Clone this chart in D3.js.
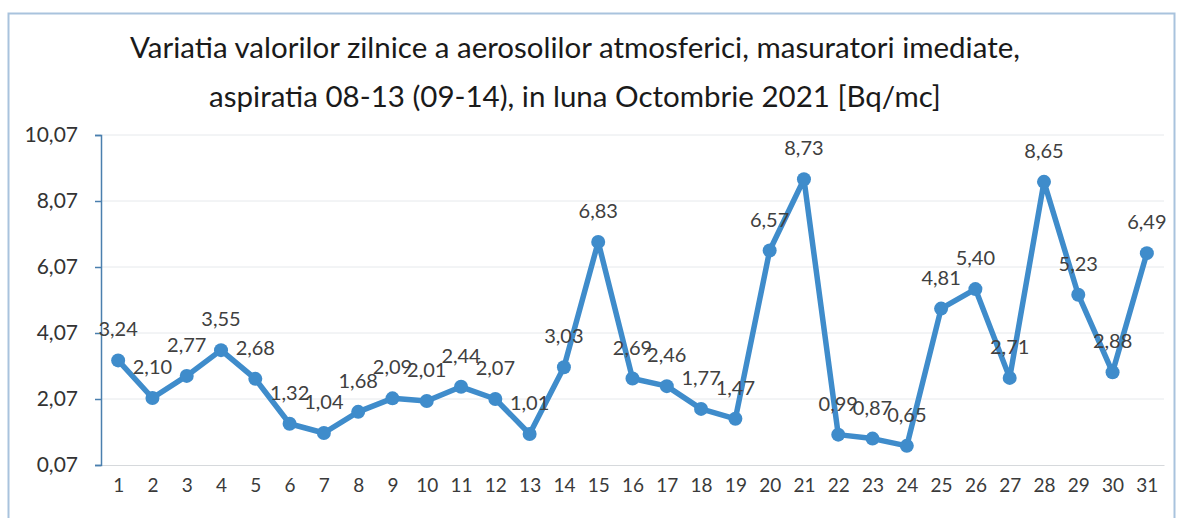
<!DOCTYPE html>
<html>
<head>
<meta charset="utf-8">
<script src="https://cdn.jsdelivr.net/npm/d3@7"></script>
<style>
  body { margin: 0; background: #fff; }
  svg { display: block; font-family: Lato, "Open Sans", sans-serif; }
</style>
</head>
<body>
<script>
// ===================================================================

const WIDTH = 1182
const HEIGHT = 518

const TITLE = [
  'Variatia valorilor zilnice a aerosolilor atmosferici, masuratori imediate,',
  'aspiratia 08-13 (09-14),  in luna Octombrie 2021 [Bq/mc]'
]

const days = d3.range(1, 32).map(String)
const values = [
  3.24, 2.10, 2.77, 3.55, 2.68, 1.32, 1.04, 1.68, 2.09, 2.01,
  2.44, 2.07, 1.01, 3.03, 6.83, 2.69, 2.46, 1.77, 1.47, 6.57,
  8.73, 0.99, 0.87, 0.65, 4.81, 5.40, 2.71, 8.65, 5.23, 2.88, 6.49
]
const yTicks = [0.07, 2.07, 4.07, 6.07, 8.07, 10.07]

const LINE_COLOR = '#3f8ccb'

// ===================================================================

const ro = d3.formatLocale({ decimal: ',', thousands: '.', grouping: [3], currency: ['', ' lei'] })
const fmt = ro.format('.2f')

const svg = d3.select('body').append('svg')
  .attr('width', WIDTH)
  .attr('height', HEIGHT)

// chart frame
svg.append('path')
  .attr('d', `M8.5,${HEIGHT} V13.5 H1174.5 V${HEIGHT}`)
  .attr('fill', 'none')
  .attr('stroke', '#a9c3dd')
  .attr('stroke-width', 2)

svg.selectAll('text.title')
  .data(TITLE)
  .join('text')
    .attr('class', 'title')
    .attr('x', 575)
    .attr('y', (d, i) => 58 + i * 49)
    .attr('text-anchor', 'middle')
    .attr('font-size', 29.5)
    .attr('fill', '#1a1a1a')
    .text(d => d)

const x = d3.scalePoint()
  .domain(days)
  .range([101, 1164])
  .padding(0.5)

const y = d3.scaleLinear()
  .domain([0.07, 10.07])
  .range([465, 135])

// gridlines
svg.append('g')
  .selectAll('line')
  .data(yTicks.slice(1))
  .join('line')
    .attr('x1', 101)
    .attr('x2', 1164)
    .attr('y1', d => y(d))
    .attr('y2', d => y(d))
    .attr('stroke', '#e6e9ec')
    .attr('stroke-width', 1)

// x axis
const xAxis = svg.append('g')
  .attr('transform', `translate(0,${y(0.07)})`)
  .call(d3.axisBottom(x).tickSize(0).tickPadding(14))
xAxis.select('.domain').attr('stroke', '#d6d9dc')
xAxis.selectAll('text')
  .attr('font-size', 19)
  .attr('font-family', 'Lato, "Open Sans", sans-serif')
  .attr('fill', '#3a3a3a')

// y axis
const yAxis = svg.append('g')
  .attr('transform', 'translate(101,0)')
  .call(d3.axisLeft(y).tickValues(yTicks).tickFormat(fmt).tickSize(6).tickPadding(17))
yAxis.selectAll('.domain, line')
  .attr('stroke', '#4a7fae')
  .attr('stroke-width', 1.5)
yAxis.selectAll('text')
  .attr('font-size', 21)
  .attr('font-family', 'Lato, "Open Sans", sans-serif')
  .attr('fill', '#333')

// series
const data = days.map((d, i) => ({ day: d, value: values[i] }))

svg.append('path')
  .datum(data)
  .attr('d', d3.line().x(d => x(d.day)).y(d => y(d.value)))
  .attr('fill', 'none')
  .attr('stroke', LINE_COLOR)
  .attr('stroke-width', 5.5)
  .attr('stroke-linejoin', 'round')

svg.append('g')
  .selectAll('circle')
  .data(data)
  .join('circle')
    .attr('cx', d => x(d.day))
    .attr('cy', d => y(d.value))
    .attr('r', 7)
    .attr('fill', LINE_COLOR)

svg.append('g')
  .selectAll('text')
  .data(data)
  .join('text')
    .attr('x', d => x(d.day))
    .attr('y', d => y(d.value) - 24)
    .attr('text-anchor', 'middle')
    .attr('font-size', 20)
    .attr('fill', '#404040')
    .text(d => fmt(d.value))
</script>
</body>
</html>
